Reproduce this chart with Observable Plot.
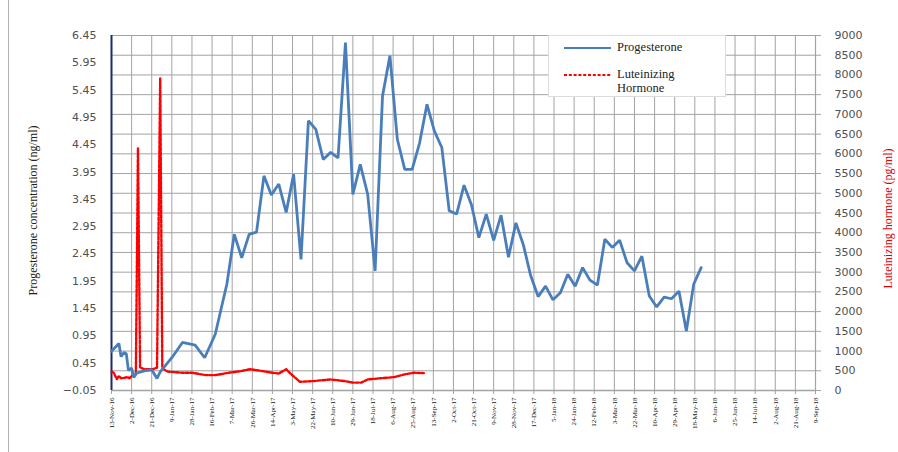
<!DOCTYPE html>
<html>
<head>
<meta charset="utf-8">
<script src="https://cdn.jsdelivr.net/npm/d3@7"></script>
<script src="https://cdn.jsdelivr.net/npm/@observablehq/plot@0.6"></script>
<style>
  body { margin: 0; background: #fff; }
  #chart { position: relative; width: 898px; height: 452px; overflow: hidden; }
  #chart > svg { position: absolute; left: 0; top: 0; }
  .frame-left { position: absolute; left: 8px; top: 0; width: 1px; height: 452px; background: #b0b0b0; }
  .ytitle { position: absolute; white-space: nowrap; font-family: "Liberation Serif", "Times New Roman", serif; font-size: 12px; transform-origin: center; }
  .legend { position: absolute; left: 548px; top: 35px; width: 176px; height: 60px; background: #fff; border: 1px solid #dcdcdc; font-family: "Liberation Serif", "Times New Roman", serif; font-size: 12.5px; color: #222; }
  .legend .row { position: absolute; left: 14px; display: flex; align-items: flex-start; }
  .legend .row svg { display: block; flex: none; }
</style>
</head>
<body>
<div id="chart">
  <div class="frame-left"></div>
</div>
<script>
// Progesterone samples (ng/ml)
const progDates = [
  "2016-11-13","2016-11-20","2016-11-22","2016-11-25","2016-11-27","2016-11-29","2016-12-02","2016-12-04",
  "2016-12-07","2016-12-14","2016-12-21","2016-12-26","2016-12-29","2017-01-09","2017-01-19","2017-01-31",
  "2017-02-09","2017-02-19","2017-03-02","2017-03-09","2017-03-16","2017-03-23","2017-03-30","2017-04-06",
  "2017-04-13","2017-04-20","2017-04-27","2017-05-04","2017-05-11","2017-05-18","2017-05-25","2017-06-01",
  "2017-06-08","2017-06-15","2017-06-22","2017-06-29","2017-07-06","2017-07-13","2017-07-20","2017-07-27",
  "2017-08-03","2017-08-10","2017-08-17","2017-08-24","2017-08-31","2017-09-07","2017-09-14","2017-09-21",
  "2017-09-28","2017-10-05","2017-10-12","2017-10-19","2017-10-26","2017-11-02","2017-11-09","2017-11-16",
  "2017-11-23","2017-11-30","2017-12-07","2017-12-14","2017-12-21","2017-12-28","2018-01-04","2018-01-11",
  "2018-01-18","2018-01-25","2018-02-01","2018-02-08","2018-02-15","2018-02-22","2018-03-01","2018-03-08",
  "2018-03-15","2018-03-22","2018-03-29","2018-04-05","2018-04-12","2018-04-19","2018-04-26","2018-05-03",
  "2018-05-10","2018-05-17","2018-05-24"
];
const progValues = [
  0.67, 0.81, 0.57, 0.65, 0.62, 0.32, 0.36, 0.19,
  0.27, 0.31, 0.33, 0.17, 0.29, 0.55, 0.83, 0.78,
  0.55, 0.98, 1.90, 2.81, 2.38, 2.81, 2.85, 3.88,
  3.53, 3.73, 3.21, 3.91, 2.35, 4.89, 4.73, 4.18,
  4.31, 4.21, 6.32, 3.54, 4.09, 3.54, 2.14, 5.34,
  6.08, 4.55, 4.00, 4.00, 4.48, 5.19, 4.70, 4.40,
  3.24, 3.18, 3.71, 3.35, 2.75, 3.18, 2.70, 3.16,
  2.39, 3.02, 2.62, 2.05, 1.67, 1.86, 1.61, 1.74,
  2.08, 1.86, 2.20, 1.97, 1.88, 2.72, 2.57, 2.70,
  2.29, 2.14, 2.41, 1.68, 1.48, 1.66, 1.63, 1.77,
  1.04, 1.90, 2.20
];

// Luteinizing hormone samples (pg/ml)
const lhDates = [
  "2016-11-13","2016-11-15","2016-11-18","2016-11-20","2016-11-22","2016-11-25","2016-11-28","2016-11-30",
  "2016-12-03","2016-12-06","2016-12-08","2016-12-10","2016-12-14","2016-12-22","2016-12-26","2016-12-29",
  "2016-12-31","2017-01-05","2017-01-19","2017-01-28","2017-02-10","2017-02-19","2017-03-04","2017-03-15",
  "2017-03-24","2017-04-05","2017-04-14","2017-04-20","2017-04-27","2017-05-01","2017-05-10","2017-05-23",
  "2017-06-08","2017-06-21","2017-06-29","2017-07-07","2017-07-13","2017-07-25","2017-08-07","2017-08-17",
  "2017-08-26","2017-09-04"
];
const lhValues = [
  480, 450, 290, 370, 310, 320, 340, 310,
  390, 410, 6140, 580, 540, 540, 580, 7910,
  560, 480, 450, 450, 390, 390, 450, 490,
  540, 490, 450, 430, 540, 430, 220, 240,
  280, 240, 200, 200, 280, 310, 340, 410,
  450, 440
];

// Axis ticks
const xTickLabels = [
  "13-Nov-16","2-Dec-16","21-Dec-16","9-Jan-17","28-Jan-17","16-Feb-17","7-Mar-17","26-Mar-17",
  "14-Apr-17","3-May-17","22-May-17","10-Jun-17","29-Jun-17","18-Jul-17","6-Aug-17","25-Aug-17",
  "13-Sep-17","2-Oct-17","21-Oct-17","9-Nov-17","28-Nov-17","17-Dec-17","5-Jan-18","24-Jan-18",
  "12-Feb-18","3-Mar-18","22-Mar-18","10-Apr-18","29-Apr-18","18-May-18","6-Jun-18","25-Jun-18",
  "14-Jul-18","2-Aug-18","21-Aug-18","9-Sep-18"
];
const leftTicks = [-0.05, 0.45, 0.95, 1.45, 1.95, 2.45, 2.95, 3.45, 3.95, 4.45, 4.95, 5.45, 5.95, 6.45];
const rightTicks = [0, 500, 1000, 1500, 2000, 2500, 3000, 3500, 4000, 4500, 5000, 5500, 6000, 6500, 7000, 7500, 8000, 8500, 9000];

const P_MIN = -0.05, P_MAX = 6.45, LH_MAX = 9000;
// LH shares the plot with progesterone: map pg/ml onto the left scale
const lhToLeft = v => P_MIN + (v / LH_MAX) * (P_MAX - P_MIN);
const leftToLh = y => String(Math.round((y - P_MIN) / (P_MAX - P_MIN) * LH_MAX));

const parseDate = d3.utcParse("%Y-%m-%d");
const parseTick = d3.utcParse("%d-%b-%y");
const prog = progDates.map((d, i) => ({date: parseDate(d), value: progValues[i]}));
const lh = lhDates.map((d, i) => ({date: parseDate(d), value: lhValues[i]}));
const xTicks = xTickLabels.map(parseTick);
const fmtTick = d => `${d.getUTCDate()}-${d3.utcFormat("%b-%y")(d)}`;
const xStart = xTicks[0], xEnd = xTicks[xTicks.length - 1];
const gridColor = "#a3a3a3";
const labelFont = "DejaVu Sans, Verdana, sans-serif";

const plot = Plot.plot({
  width: 898,
  height: 452,
  marginLeft: 111,
  marginRight: 83,
  marginTop: 35,
  marginBottom: 62,
  style: {background: "transparent", overflow: "visible"},
  x: {type: "utc", domain: [xStart, xEnd]},
  y: {domain: [P_MIN, P_MAX]},
  marks: [
    Plot.gridX(xTicks, {stroke: gridColor, strokeOpacity: 1}),
    Plot.gridY(rightTicks.map(lhToLeft), {stroke: gridColor, strokeOpacity: 1}),
    Plot.axisX(xTicks, {
      tickFormat: fmtTick, tickRotate: -90, tickSize: 4, tickPadding: 3,
      fontSize: 7, fontFamily: "Liberation Serif, Times New Roman, serif",
      stroke: gridColor, fill: "#111", label: null
    }),
    Plot.axisY(leftTicks, {
      anchor: "left", tickSize: 0, tickPadding: 15, tickFormat: d3.format(".2f"),
      fontSize: 11, fontFamily: labelFont, fill: "#505050", label: null
    }),
    Plot.axisY(rightTicks.map(lhToLeft), {
      anchor: "right", tickSize: 5, tickPadding: 14, tickFormat: leftToLh,
      fontSize: 11, fontFamily: labelFont, fill: "#505050", stroke: gridColor, label: null
    }),
    Plot.ruleY([P_MIN], {stroke: gridColor, strokeWidth: 1.5}),
    Plot.ruleX([xEnd], {stroke: gridColor, strokeWidth: 1.2}),
    Plot.ruleX([xStart], {stroke: "#1d2a6b", strokeWidth: 2}),
    Plot.lineY(lh, {
      x: "date", y: d => lhToLeft(d.value),
      stroke: "#ff0000", strokeWidth: 2.4, strokeDasharray: "3,1.8"
    }),
    Plot.lineY(prog, {
      x: "date", y: "value",
      stroke: "#4a7ebb", strokeWidth: 2.8, strokeLinejoin: "miter"
    })
  ]
});

const chart = document.getElementById("chart");
chart.appendChild(plot);

// Axis titles
const leftTitle = document.createElement("div");
leftTitle.className = "ytitle";
leftTitle.textContent = "Progesterone concentration (ng/ml)";
leftTitle.style.color = "#222";
chart.appendChild(leftTitle);

const rightTitle = document.createElement("div");
rightTitle.className = "ytitle";
rightTitle.textContent = "Luteinizing hormone (pg/ml)";
rightTitle.style.color = "#e00000";
chart.appendChild(rightTitle);

function placeRotated(el, cx, cy) {
  const w = el.offsetWidth, h = el.offsetHeight;
  el.style.left = (cx - w / 2) + "px";
  el.style.top = (cy - h / 2) + "px";
  el.style.transform = "rotate(-90deg)";
}
placeRotated(leftTitle, 34, 210);
placeRotated(rightTitle, 889, 218);

// Legend
const legend = document.createElement("div");
legend.className = "legend";
legend.innerHTML = `
  <div class="row" style="top:4px">
    <svg width="50" height="14"><line x1="1" x2="48" y1="8" y2="8" stroke="#4a7ebb" stroke-width="2"/></svg>
    <span style="margin-left:4px;line-height:14px">Progesterone</span>
  </div>
  <div class="row" style="top:31px">
    <svg width="50" height="14"><line x1="1" x2="48" y1="8" y2="8" stroke="#ff0000" stroke-width="2" stroke-dasharray="3,1.8"/></svg>
    <span style="margin-left:4px;line-height:14px">Luteinizing<br>Hormone</span>
  </div>`;
chart.appendChild(legend);
</script>
</body>
</html>
